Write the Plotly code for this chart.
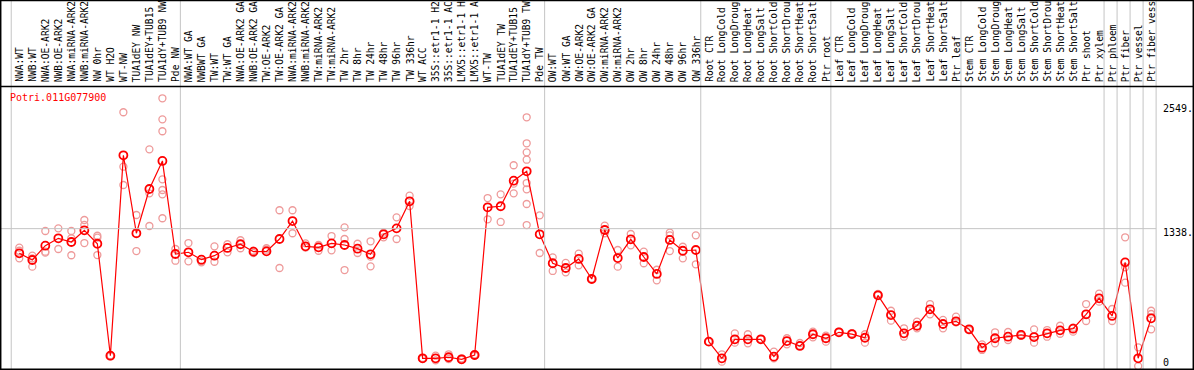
import plotly.graph_objects as go

categories = [
    "NWA:WT", "NWB:WT", "NWA:OE-ARK2", "NWB:OE-ARK2", "NWA:miRNA-ARK2", "NWB:miRNA-ARK2",
    "NW 0hr", "WT H2O", "WT-NW", "TUA1dEY NW", "TUA1dEY+TUB15", "TUA1dY+TUB9 NW", "Pde NW",
    "NWA:WT GA", "NWBWT GA", "TW:WT", "TW:WT GA", "NWA:OE-ARK2 GA", "NWB:OE-ARK2 GA",
    "TW:OE-ARK2", "TW:OE-ARK2 GA", "NWA:miRNA-ARK2", "NWB:miRNA-ARK2", "TW:miRNA-ARK2",
    "TW:miRNA-ARK2", "TW 2hr", "TW 8hr", "TW 24hr", "TW 48hr", "TW 96hr", "TW 336hr",
    "WT ACC", "35S::etr1-1 H2", "35S::etr1-1 AC", "LMX5::etr1-1 H", "LMX5::etr1-1 A",
    "WT-TW", "TUA1dEY TW", "TUA1dEY+TUB15", "TUA1dY+TUB9 TW", "Pde TW",
    "OW:WT", "OW:WT GA", "OW:OE-ARK2", "OW:OE-ARK2 GA", "OW:miRNA-ARK2", "OW:miRNA-ARK2",
    "OW 2hr", "OW 8hr", "OW 24hr", "OW 48hr", "OW 96hr", "OW 336hr",
    "Root CTR", "Root LongCold", "Root LongDroug", "Root LongHeat", "Root LongSalt",
    "Root ShortCold", "Root ShortDrou", "Root ShortHeat", "Root ShortSalt", "Ptr root",
    "Leaf CTR", "Leaf LongCold", "Leaf LongDroug", "Leaf LongHeat", "Leaf LongSalt",
    "Leaf ShortCold", "Leaf ShortDrou", "Leaf ShortHeat", "Leaf ShortSalt", "Ptr leaf",
    "Stem CTR", "Stem LongCold", "Stem LongDroug", "Stem LongHeat", "Stem LongSalt",
    "Stem ShortCold", "Stem ShortDrou", "Stem ShortHeat", "Stem ShortSalt", "Ptr shoot",
    "Ptr xylem", "Ptr phloem", "Ptr fiber", "Ptr vessel", "Ptr fiber vess",
]

means = [
    1098, 1033, 1172, 1244, 1208, 1322, 1191, 101, 2052, 1293, 1724, 1997, 1091,
    1108, 1036, 1075, 1150, 1186, 1114, 1117, 1237, 1412, 1166, 1156, 1195, 1179,
    1143, 1088, 1283, 1341, 1604, 76, 76, 86, 66, 108, 1546, 1556, 1805, 1896, 1283,
    1001, 955, 1043, 848, 1325, 1052, 1234, 1062, 897, 1228, 1123, 1130,
    238, 76, 261, 261, 261, 92, 244, 196, 310, 271,
    329, 312, 276, 689, 497, 319, 393, 553, 410, 436,
    358, 179, 271, 286, 303, 283, 319, 348, 364, 504,
    660, 488, 1010, 76, 465,
]

replicates = [
    [1153, 1123, 1049], [1075, 968, 1049], [1315, 1114, 1104], [1341, 1140],
    [1315, 1244, 1079], [1422, 1374, 1198], [1269, 1250, 1081], [101, 95, 105],
    [2471, 1941, 1763], [1471, 1120], [2110, 1682, 1364],
    [2607, 2402, 2286, 1818, 1714, 1672, 1439], [1140, 1026],
    [1198, 1020], [1010, 1020], [1166, 1016], [1186, 1108], [1225, 1147],
    [1123, 1101], [1147, 1133], [1517, 955], [1517, 1293], [1195, 1153],
    [1179, 1123], [1266, 1127], [1351, 1237, 935], [1191, 1101], [1215, 1065, 971],
    [1299, 1254], [1448, 1237], [1659, 1558], [80, 70], [101, 56], [115, 69],
    [76, 62], [115, 100], [1636, 1429], [1672, 1403], [1955, 1776, 1682],
    [2422, 2169, 2081, 2009, 1782, 1721, 1578, 1373], [1468, 1101],
    [1059, 926], [1004, 913], [1094, 981], [845, 852], [1367, 1293], [1130, 968],
    [1286, 1176], [1114, 1001], [938, 835], [1299, 1273, 1120], [1162, 1049],
    [1273, 991],
    [238, 235], [115, 43], [319, 228], [310, 222], [261, 265], [140, 76],
    [271, 212], [225, 200], [335, 280], [296, 238],
    [329, 335], [312, 320], [310, 228], [702, 690], [539, 442], [368, 286],
    [432, 368], [604, 504], [449, 368], [481, 426],
    [351, 360], [212, 157], [329, 222], [332, 254], [312, 296], [358, 228],
    [351, 286], [393, 315], [374, 335], [604, 439],
    [705, 627], [556, 439], [1254, 962, 812], [183, 0], [539, 507, 358],
]

gene_name = "Potri.011G077900"
y_tick_values = [2549, 1338, 0]
y_tick_labels = ["2549.", "1338.", "0"]
separators_after = [0, 13, 41, 53, 63, 73, 84, 85, 86, 87, 88]

W, H = 1194, 370
FONT = "DejaVu Sans Mono"

xs = list(range(1, len(categories) + 1))
rep_x, rep_y = [], []
for xi, reps in zip(xs, replicates):
    for r in reps:
        rep_x.append(xi)
        rep_y.append(r)

fig = go.Figure()
fig.add_trace(go.Scatter(
    x=rep_x, y=rep_y, mode="markers",
    marker=dict(symbol="circle-open", size=7, color="#ee9a9a", line=dict(width=1.3)),
    hoverinfo="skip", showlegend=False,
))
fig.add_trace(go.Scatter(
    x=xs, y=means, mode="lines+markers",
    line=dict(color="#ff0000", width=1.2),
    marker=dict(symbol="circle-open", size=8, color="#ff0000", line=dict(width=1.8)),
    showlegend=False,
))

# x mapping: column i at pixel 19.3 + (i-1)*13.01
sp = 13.01
x0 = 1 - 19.3 / sp
x1 = 1 + (W - 19.3) / sp
# y mapping: 0 at pixel 366.1, 0.10273 px per unit, plot from px 86 to 369
k = 0.10273
ytop = (366.1 - 86) / k
ybot = (366.1 - 369) / k

shapes = []
for s in separators_after:
    xs_sep = s + 0.5 - 0.12
    shapes.append(dict(type="line", xref="x", yref="paper", x0=xs_sep, x1=xs_sep,
                       y0=0, y1=1, line=dict(color="#c4c4c4", width=1)))
last_sep = separators_after[-1] + 0.5 - 0.12
shapes.append(dict(type="line", xref="x", yref="y", x0=x0, x1=last_sep,
                   y0=y_tick_values[1], y1=y_tick_values[1],
                   line=dict(color="#c4c4c4", width=1)))
# frame and header line
shapes.append(dict(type="rect", xref="paper", yref="paper",
                   x0=0.7 / W, x1=(W - 0.7) / W, y0=(H - 369.2) / H, y1=1 - 0.6 / H,
                   line=dict(color="black", width=1.5)))
shapes.append(dict(type="line", xref="paper", yref="paper", x0=0, x1=1,
                   y0=1 - 86.5 / H, y1=1 - 86.5 / H, line=dict(color="black", width=1.5)))

annotations = []
for xi, lab in zip(xs, categories):
    annotations.append(dict(x=xi, xref="x", y=1 - 83 / H, yref="paper", text=lab,
                            textangle=-90, xanchor="center", yanchor="bottom",
                            showarrow=False, font=dict(family=FONT, size=9.6, color="black"),
                            borderpad=0))
annotations.append(dict(x=9 / W, xref="paper", y=1 - 91 / H, yref="paper", text=gene_name,
                        xanchor="left", yanchor="top", showarrow=False, borderpad=0,
                        font=dict(family=FONT, size=10, color="#ff0000")))
label_centers = [108, 232.5, 362]
for lab, cy in zip(y_tick_labels, label_centers):
    annotations.append(dict(x=1162 / W, xref="paper", y=1 - cy / H, yref="paper", text=lab,
                            xanchor="left", yanchor="middle", showarrow=False, borderpad=0,
                            font=dict(family=FONT, size=10, color="black")))

fig.update_layout(
    width=W, height=H, margin=dict(l=0, r=0, t=0, b=0),
    paper_bgcolor="white", plot_bgcolor="white",
    xaxis=dict(range=[x0, x1], domain=[0, 1], visible=False, fixedrange=True),
    yaxis=dict(range=[ybot, ytop], domain=[(H - 369) / H, (H - 86) / H], visible=False,
               fixedrange=True),
    shapes=shapes, annotations=annotations,
)

fig.write_html(
    "out.html",
    config={"displayModeBar": False},
    post_script="document.body.style.margin='0';document.body.style.padding='0';",
)
